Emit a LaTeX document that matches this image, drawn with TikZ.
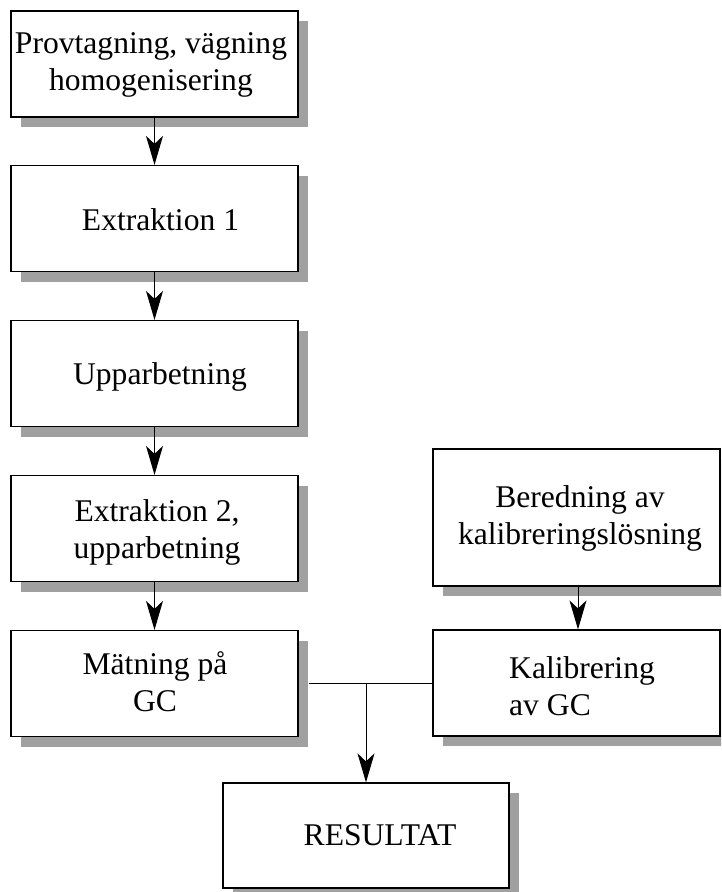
\documentclass[tikz,border=0pt]{standalone}
\usepackage{fontspec}
\setmainfont{Liberation Serif}
\usetikzlibrary{arrows.meta,shadows}

\definecolor{shadowgray}{HTML}{A0A0A0}

\tikzset{
  stepbox/.style={
    draw=black, line width=1.2pt, fill=white, rectangle, inner sep=0pt,
    minimum width=287pt, minimum height=106pt,
    drop shadow={shadow xshift=10pt, shadow yshift=-10pt,
                 fill=shadowgray, draw=none, opacity=1}
  },
  steptext/.style={inner sep=0pt, align=center,
    font=\fontsize{31.6}{37}\selectfont},
  flow/.style={draw=black, line width=1pt,
    -{Stealth[length=29pt, width=17pt, inset=8pt]}},
  link/.style={draw=black, line width=1pt}
}

\begin{document}
\begin{tikzpicture}[x=1pt, y=-1pt]
  \clip (0,0) rectangle (721,892);

  % process boxes, left column
  \node[stepbox] (b1) at (154.5, 64)    {};
  \node[stepbox] (b2) at (154.5, 218.5) {};
  \node[stepbox] (b3) at (154.5, 373.5) {};
  \node[stepbox] (b4) at (154.5, 528.5) {};
  \node[stepbox] (b5) at (154.5, 683.5) {};

  % calibration column
  \node[stepbox, minimum height=137pt] (r1) at (576.5, 517.5) {};
  \node[stepbox] (r2) at (576.5, 683) {};

  % result
  \node[stepbox, minimum width=286pt, minimum height=105pt] (res) at (366, 835.5) {};

  % box labels
  \node[steptext] (t1) at (151, 65) {Provtagning, vägning\\homogenisering};
  \node[steptext, anchor=base] (t2) at (160.5, 230) {Extraktion 1};
  \node[steptext, anchor=base] (t3) at (160, 384) {Upparbetning};
  \node[steptext] (t4) at (157, 532) {Extraktion 2,\\upparbetning};
  \node[steptext] (t5) at (155, 681.5) {Mätning på\\GC};
  \node[steptext] (t6) at (580, 518) {Beredning av\\kalibreringslösning};
  \node[steptext, anchor=west, align=left] (t7) at (509, 686) {Kalibrering\\av GC};
  \node[steptext, anchor=base] (t8) at (380, 845) {RESULTAT};

  % flow arrows
  \draw[flow] (b1.south) -- (b2.north);
  \draw[flow] (b2.south) -- (b3.north);
  \draw[flow] (b3.south) -- (b4.north);
  \draw[flow] (b4.south) -- (b5.north);
  \draw[flow] (r1.south -| 578,0) -- (r2.north -| 578,0);

  % measurement and calibration join into the result
  \coordinate (join) at (res.north |- r2.west);
  \draw[link] ([xshift=10pt]b5.east |- r2.west) -- (r2.west);
  \draw[flow] (join) -- (res.north);
\end{tikzpicture}
\end{document}
